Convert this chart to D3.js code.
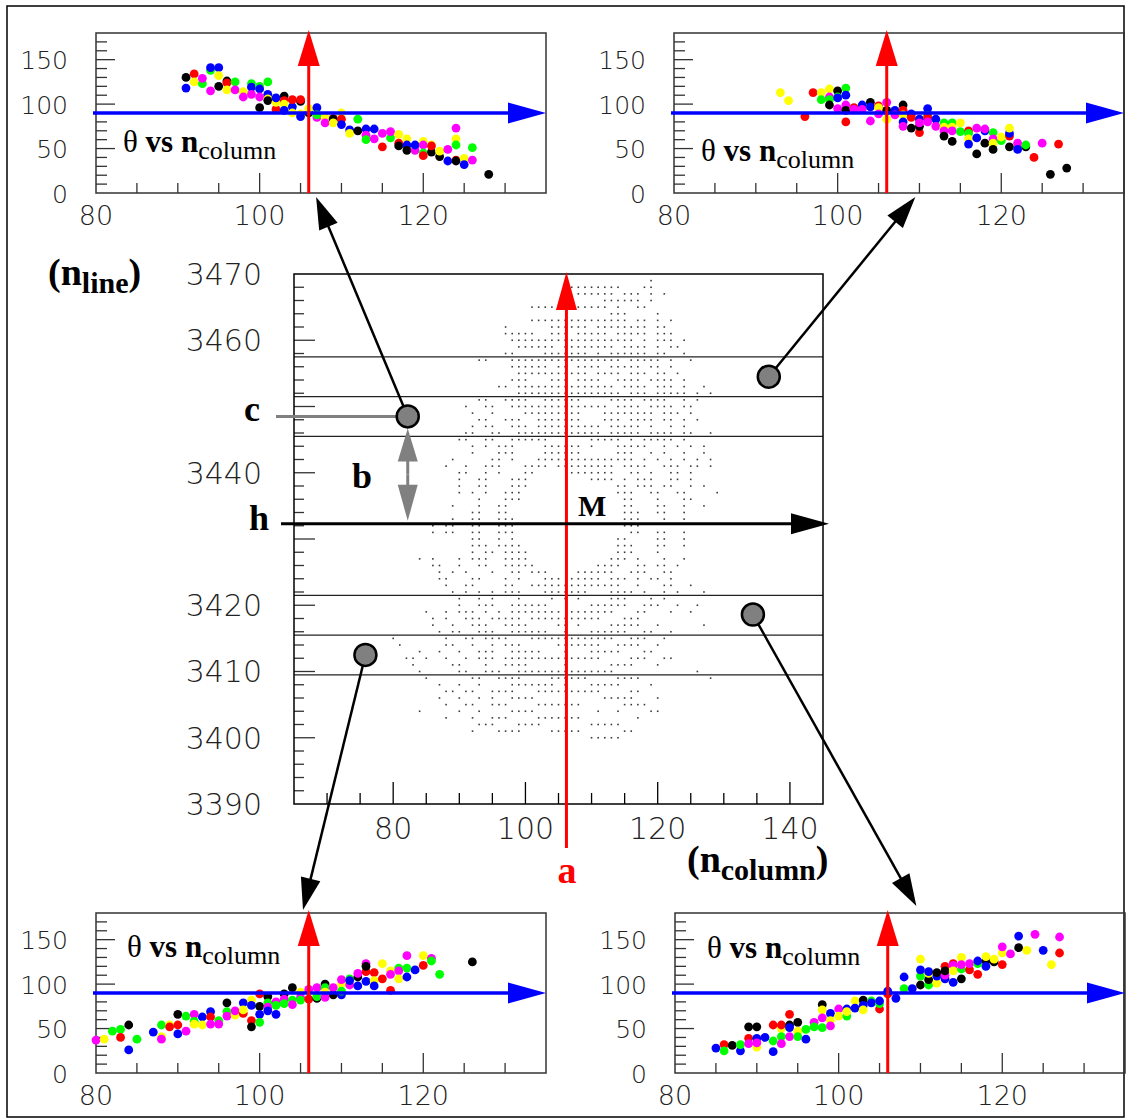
<!DOCTYPE html>
<html>
<head>
<meta charset="utf-8">
<script src="https://cdn.jsdelivr.net/npm/d3@7"></script>
<style>
  body { margin: 0; background: #fff; }
  svg { display: block; }
  .num { font-family: "DejaVu Sans", sans-serif; font-weight: 200; fill: #222; }
  .ser { font-family: "Liberation Serif", "Times New Roman", serif; }
</style>
</head>
<body>
<svg id="fig" width="1127" height="1118"></svg>
<script>
// ---- central hit map: one string per n_line (3469 down to 3400), one char per n_column from 80 ----
const hitFirstCol = 80;
const hitTopLine = 3469;
const hitRows = [
  "----------|----------|----------|---------o|----------",
  "----------|----------|-------ooo|ooooo---oo|----------",
  "----------|----------|--------oo|oooo-ooo-o|-o--------",
  "----------|----------|----------|--oooooo-o|----------",
  "----------|----------|-ooooo--oo|ooo-o--oo-|----------",
  "----------|----------|----------|---ooo----|o---------",
  "----------|----------|-ooooooooo|oooooo-oo-|o-o-------",
  "----------|-------o--|----oooooo|-oooooooo-|oo--------",
  "----------|-------ooo|oo--ooo-oo|ooo-ooooo-|ooo-------",
  "----------|--------oo|oooooooooo|ooooooo-o-|ooo-o-----",
  "----------|---------o|ooooo-oooo|oooo-oooo-|o-oo------",
  "----------|-------oo-|---ooooooo|-o-oooooo-|oo--o-----",
  "----------|---oo---oo|oooooooooo|ooooo-oooo|o-o--o----",
  "----------|--------oo|oooo-oo-oo|oo-ooooo-o|o-o-------",
  "----------|---------o|oooooooooo|-oooo-ooo-|oo-o------",
  "----------|--------oo|o---ooo-oo|oo--oooo-o|ooo-o-----",
  "----------|------oo-o|oooooooooo|oooo-oooo-|ooo-o--o--",
  "----------|---------o|oooooooooo|ooooo-ooo-|ooooo-o-o-",
  "----------|---oo--ooo|o--oooooo-|---oooo-oo|oo--o-o---",
  "----------|-o--oo--oo|oooooooooo|ooo-oooo-o|ooo-oo----",
  "----------|--o--o----|ooooooooo-|--oooooooo|-ooo-o----",
  "----------|---oo--ooo|--ooooooo-|--ooo-oooo|-oo-o-o---",
  "----------|--o-oo--oo|o-oooooooo|oo-ooooo-o|--o-o-----",
  "----------|-oo--oo--o|oooooooooo|oo-ooooo-o|ooo-oo--o-",
  "----------|oo--oo--oo|oooo------|ooooo-o-oo|ooo-o-----",
  "----------|--o-o-ooo-|---oooooo-|o---ooooo-|-o-o-o-o--",
  "----------|--o---ooo-|---oooooo-|----ooo--o|-o--o--o--",
  "---------o|-----oo-o-|--oooooooo|ooooooo-o-|o-o-o-o-o-",
  "--------o-|-o--ooo---|oooo-ooooo|oooo-oooo-|-ooo-oo-o-",
  "----------|oo--o-o---|oo-----ooo|oooo--oo-o|--oo-o----",
  "----------|o--oo---oo|o---------|oooo-o-ooo|--oo-o----",
  "----------|o--oo---oo|o---------|----oo-ooo|-oo--o-o--",
  "----------|o-o-o--ooo|----------|----ooo--o|o--oo----o",
  "----------|---o---ooo|----------|-----oo---|o---oo----",
  "---------o|---o--oo--|----------|-----oo---|oo--o--o--",
  "----------|--oo--oo--|----------|-----ooo--|oo--o-----",
  "---------o|--oo--ooo-|----------|-----ooo--|-o--o-----",
  "------o-oo|--oo--ooo-|----------|-----ooo--|----------",
  "------o-oo|--oo--ooo-|----------|------oo--|oo--o-----",
  "----------|--oo--o-o-|----------|----oo----|oo--o-----",
  "----------|--ooo-oooo|----------|----ooo---|oo--o-----",
  "----------|--o-oo-ooo|o---------|----ooo---|o---------",
  "----o-o---|o-ooo--ooo|o---------|---ooo-o--|-o--o-----",
  "------oo--|o--oo--ooo|oo--------|-oooo--oo-|oo-o------",
  "-------o-o|-o---o--oo|-ooo----oo|oooo--ooo-|-oo-------",
  "-------oo-|--oo---o-o|---ooo-ooo|oo-ooo-o-o|o-o-------",
  "--------o-|-oo----oo-|-ooooooooo|ooooo--o--|-oo--o----",
  "---------o|-o-o-o-ooo|---ooooooo|---oooo-o-|-o-o---o--",
  "----------|o--o-o---o|----o-o-o-|---ooo---o|-o--------",
  "----------|o--ooo--oo|oooo------|oooooo--oo|o--o--o---",
  "-----o--o-|ooo-o-o-oo|oooooo-ooo|oooo---oo-|--o--o----",
  "------o-o-|-ooo-ooooo|-ooooooooo|oo---ooo--|----------",
  "------o--o|--ooo--ooo|o----oo-o-|---ooooo--|o------o--",
  "-------o-o|o--ooo--oo|oooo--o---|oooooo--oo|--o-------",
  "o-------o-|-oo-oooo--|-ooooooooo|oooo--ooo-|-o--------",
  "-o------oo|--o--o-ooo|-----ooooo|oo--oooo--|o---------",
  "----o--o--|o--ooo--oo|ooo---o---|ooooo---oo|----------",
  "--oo-o--o-|-o-ooo-ooo|oooooooooo|oo----ooo-|-oo-------",
  "---o-----o|o---o--ooo|o-----o---|---oooo---|o---------",
  "----o-----|oo--ooo--o|oooooooooo|oooo------|------o---",
  "-----o----|--oo--oooo|----oooooo|----oooo--|--------o-",
  "-------o--|o--o----oo|ooooo-o---|ooooo----o|----------",
  "--------oo|-oo--oooo-|--oooooooo|oo----oo--|----------",
  "-------o--|o--o-o--oo|oo--------|--ooooo---|o---------",
  "--------o-|-oo--ooo--|--ooooooo-|-----oooo-|----------",
  "----o-----|o--o----oo|oo--------|-o--o----o|o---------",
  "--------o-|--o--ooo--|--ooooooo-|-------o--|----------",
  "----------|---ooo---o|ooo-------|ooooo-----|----------",
  "----------|--o---oooo|----ooooo-|-----oo---|----------",
  "----------|----------|----------|ooooo-----|----------"
];

// band boundaries (n_line) and band centres where the probe circles sit
const bandLines = [3457.5, 3451.5, 3445.5, 3421.5, 3415.5, 3409.5];
const mainXLabels = [80, 100, 120, 140];
const mainYLabels = [3470, 3460, 3440, 3420, 3410, 3400, 3390];
const axisLine = 106.2;     // red vertical "a"
const hLine = 3432.3;       // horizontal "h"
const probes = [            // [n_column, n_line] of the grey circles
  [82.2, 3448.5],  // -> top left
  [136.8, 3454.5], // -> top right
  [75.8, 3412.5],  // -> bottom left
  [134.4, 3418.6]  // -> bottom right
];

// ---- insets: theta vs n_column, [n_column, theta, colour] ----
const insetXLabels = [80, 100, 120];
const insetYLabels = [0, 50, 100, 150];
const thetaRef = 90;
const columnRef = 106;

const topLeftPts = [
  [91,130,"k"],[91,118,"b"],[92,134,"r"],[92,125,"y"],[93,123,"g"],[93,129,"m"],[94,138,"g"],[94,141,"b"],
  [95,141,"b"],[94,115,"m"],[95,132,"y"],[95,120,"k"],[96,126,"k"],[96,124,"r"],[96,116,"y"],[97,125,"g"],
  [97,116,"m"],[98,114,"y"],[98,108,"m"],[99,123,"g"],[99,119,"b"],[99,111,"m"],[100,120,"g"],[100,117,"b"],
  [100,108,"m"],[100,96,"k"],[101,125,"g"],[101,111,"b"],[101,106,"y"],[101,104,"k"],[102,94,"r"],[102,102,"y"],
  [102,107,"b"],[103,109,"k"],[103,104,"r"],[103,100,"y"],[103,93,"b"],[104,97,"b"],[104,105,"r"],[104,90,"y"],
  [105,103,"k"],[105,105,"r"],[105,89,"y"],[105,86,"b"],[106,90,"k"],[106,95,"y"],[107,96,"b"],[107,85,"m"],
  [107,88,"g"],[108,85,"y"],[109,84,"r"],[108,79,"m"],[109,82,"b"],[109,83,"k"],[110,90,"y"],[110,83,"r"],
  [109,79,"y"],[110,77,"b"],[111,71,"b"],[111,67,"y"],[112,83,"g"],[112,70,"k"],[114,72,"b"],[113,72,"b"],
  [113,65,"m"],[113,60,"g"],[114,61,"m"],[115,67,"m"],[116,62,"g"],[116,69,"m"],[117,66,"y"],[115,52,"r"],
  [117,56,"r"],[117,53,"k"],[118,61,"y"],[118,54,"b"],[118,48,"k"],[119,48,"m"],[119,54,"b"],[120,58,"y"],
  [120,54,"m"],[120,45,"g"],[120,42,"r"],[121,46,"k"],[121,54,"y"],[121,53,"r"],[122,41,"k"],[122,47,"y"],
  [123,49,"m"],[123,36,"b"],[124,73,"m"],[124,61,"y"],[124,54,"g"],[124,37,"r"],[124,36,"k"],[125,39,"y"],
  [125,32,"b"],[126,37,"m"],[126,51,"g"],[128,21,"k"]
];

const topRightPts = [
  [93,113,"y"],[94,104,"y"],[96,86,"r"],[97,113,"r"],[98,113,"y"],[98,105,"g"],[99,117,"y"],[99,108,"m"],
  [99,105,"g"],[99,99,"k"],[100,115,"k"],[100,108,"g"],[100,107,"b"],[100,95,"m"],[101,118,"g"],[101,110,"b"],
  [101,99,"m"],[101,93,"k"],[101,80,"r"],[102,96,"r"],[102,94,"m"],[103,99,"b"],[103,94,"m"],[104,102,"k"],
  [104,97,"b"],[104,81,"m"],[105,98,"r"],[105,96,"y"],[105,89,"m"],[106,93,"k"],[106,83,"y"],[106,102,"m"],
  [107,93,"b"],[107,88,"m"],[108,99,"k"],[108,93,"r"],[108,88,"y"],[108,80,"b"],[108,75,"m"],[109,89,"b"],
  [109,85,"r"],[109,73,"k"],[110,83,"b"],[110,68,"r"],[110,75,"k"],[110,79,"m"],[111,95,"b"],[111,87,"g"],
  [111,85,"r"],[111,80,"m"],[112,83,"b"],[112,75,"m"],[113,79,"g"],[113,74,"y"],[113,70,"m"],[113,64,"k"],
  [114,79,"g"],[114,74,"y"],[114,70,"m"],[114,58,"k"],[115,69,"g"],[115,79,"y"],[116,70,"r"],[116,67,"g"],
  [116,61,"y"],[116,55,"b"],[117,73,"m"],[117,44,"k"],[117,62,"b"],[118,56,"k"],[118,70,"b"],[118,72,"m"],
  [119,68,"g"],[119,61,"m"],[119,56,"y"],[119,49,"k"],[120,59,"g"],[120,63,"y"],[121,64,"r"],[121,67,"b"],
  [121,73,"y"],[121,52,"k"],[122,56,"m"],[122,49,"b"],[123,52,"k"],[123,54,"g"],[125,56,"m"],[124,40,"r"],
  [126,21,"k"],[127,55,"r"],[128,28,"k"]
];

const bottomLeftPts = [
  [80,37,"m"],[81,38,"y"],[82,47,"g"],[83,49,"g"],[83,40,"r"],[84,54,"k"],[84,26,"b"],[85,38,"g"],
  [87,46,"b"],[88,54,"g"],[88,41,"y"],[88,38,"m"],[89,54,"y"],[89,52,"r"],[90,66,"k"],[90,54,"r"],
  [90,44,"b"],[91,64,"g"],[91,47,"m"],[92,66,"m"],[92,58,"g"],[92,55,"y"],[93,63,"b"],[93,54,"y"],
  [94,69,"b"],[94,63,"r"],[94,55,"m"],[95,59,"g"],[95,55,"m"],[96,79,"k"],[96,69,"g"],[96,64,"m"],
  [97,65,"y"],[97,70,"m"],[98,79,"b"],[98,67,"r"],[98,71,"y"],[99,82,"y"],[99,76,"b"],[99,59,"r"],
  [99,52,"k"],[100,89,"r"],[100,75,"k"],[100,66,"b"],[100,57,"g"],[101,86,"k"],[101,79,"g"],[101,74,"m"],
  [101,70,"b"],[102,80,"m"],[102,76,"g"],[102,66,"b"],[103,89,"k"],[103,83,"m"],[103,78,"g"],[104,96,"k"],
  [104,82,"g"],[104,77,"m"],[105,91,"y"],[105,85,"m"],[105,82,"g"],[106,94,"m"],[106,83,"r"],[107,96,"m"],
  [107,84,"k"],[107,86,"g"],[108,100,"k"],[108,96,"g"],[108,91,"y"],[108,85,"m"],[109,88,"k"],[109,96,"m"],
  [110,88,"b"],[110,100,"y"],[110,105,"m"],[110,92,"g"],[111,106,"g"],[111,99,"m"],[111,104,"b"],[112,108,"k"],
  [112,98,"b"],[112,112,"m"],[113,114,"r"],[113,123,"m"],[113,120,"k"],[113,103,"b"],[114,113,"r"],[115,123,"y"],
  [114,104,"y"],[114,98,"b"],[115,106,"r"],[116,93,"r"],[116,115,"y"],[116,111,"m"],[117,118,"g"],[117,115,"m"],
  [117,106,"y"],[118,118,"g"],[118,132,"m"],[118,108,"b"],[119,116,"b"],[120,121,"r"],[120,132,"y"],[121,129,"m"],
  [121,126,"g"],[122,111,"g"],[126,125,"k"]
];

const bottomRightPts = [
  [85,28,"b"],[86,32,"r"],[86,25,"g"],[87,31,"k"],[88,25,"b"],[88,32,"g"],[89,52,"k"],[89,39,"r"],
  [89,33,"m"],[90,52,"k"],[90,39,"b"],[90,29,"y"],[90,34,"m"],[91,40,"b"],[92,36,"g"],[92,24,"b"],
  [92,54,"r"],[93,50,"y"],[93,41,"g"],[93,33,"m"],[93,54,"r"],[94,66,"r"],[94,54,"k"],[94,51,"b"],
  [94,41,"m"],[95,57,"k"],[95,47,"y"],[95,41,"g"],[96,49,"g"],[96,38,"b"],[97,57,"m"],[97,52,"g"],
  [98,77,"k"],[98,71,"y"],[98,62,"m"],[98,51,"g"],[99,67,"b"],[99,59,"y"],[99,53,"m"],[100,72,"m"],
  [100,64,"y"],[101,72,"b"],[101,64,"g"],[101,69,"y"],[102,81,"y"],[102,73,"b"],[103,82,"k"],[103,76,"b"],
  [103,71,"y"],[104,81,"g"],[104,79,"b"],[105,72,"r"],[105,78,"g"],[105,81,"b"],[106,89,"r"],[106,92,"b"],
  [107,84,"b"],[108,108,"b"],[108,95,"g"],[109,95,"b"],[110,99,"k"],[110,109,"g"],[110,116,"b"],[110,128,"y"],
  [111,99,"g"],[111,105,"k"],[111,112,"y"],[111,114,"b"],[112,101,"y"],[112,109,"b"],[112,113,"k"],[113,120,"r"],
  [113,106,"b"],[113,110,"m"],[113,115,"k"],[114,123,"r"],[114,102,"b"],[114,121,"m"],[114,115,"y"],[115,130,"y"],
  [115,106,"k"],[115,117,"g"],[115,122,"m"],[116,116,"r"],[116,123,"m"],[117,111,"r"],[118,126,"k"],[118,131,"y"],
  [118,120,"b"],[117,123,"g"],[117,126,"b"],[119,125,"k"],[119,128,"y"],[120,135,"y"],[120,122,"r"],[120,142,"m"],
  [121,134,"m"],[122,154,"b"],[122,141,"k"],[123,138,"y"],[124,156,"m"],[125,138,"b"],[126,122,"y"],[127,153,"m"],
  [127,135,"r"]
];

const markerColors = { k: "#000000", r: "#ff0000", g: "#00ff00", b: "#0000ff", y: "#ffff00", m: "#ff00ff" };

const svg = d3.select("#fig");

function arrow(sel, x1, y1, x2, y2, o) {
  const dx = x2 - x1, dy = y2 - y1, L = Math.hypot(dx, dy);
  const ux = dx / L, uy = dy / L;
  const bx = x2 - ux * o.head, by = y2 - uy * o.head;
  sel.append("line")
    .attr("x1", x1).attr("y1", y1).attr("x2", bx + ux * 2).attr("y2", by + uy * 2)
    .attr("stroke", o.color).attr("stroke-width", o.width);
  const px = -uy, py = ux, hw = o.headW / 2;
  sel.append("path")
    .attr("d", `M${x2},${y2}L${bx + px * hw},${by + py * hw}L${bx - px * hw},${by - py * hw}Z`)
    .attr("fill", o.color);
}

// outer frame
svg.append("rect").attr("x", 7).attr("y", 6).attr("width", 1117).attr("height", 1111)
  .attr("fill", "none").attr("stroke", "#000").attr("stroke-width", 1.5);

// ---------------- central plot ----------------
const xMain = d3.scaleLinear().domain([65, 145]).range([294, 823]);
const yMain = d3.scaleLinear().domain([3390, 3470]).range([804, 274]);
const main = svg.append("g");

const hits = [];
hitRows.forEach((row, i) => {
  row.replace(/\|/g, "").split("").forEach((ch, j) => {
    if (ch === "o") hits.push([hitFirstCol + j, hitTopLine - i]);
  });
});
main.append("g").selectAll("rect").data(hits).join("rect")
  .attr("x", d => xMain(d[0]) - 0.8).attr("y", d => yMain(d[1]) - 0.8)
  .attr("width", 1.6).attr("height", 1.6).attr("fill", "#3a3a3a");

main.append("g").selectAll("line").data(bandLines).join("line")
  .attr("x1", xMain(65)).attr("x2", xMain(145))
  .attr("y1", d => yMain(d)).attr("y2", d => yMain(d))
  .attr("stroke", "#222").attr("stroke-width", 1.2);

// ticks inside the frame
const xt = d3.range(70, 145, 5);
main.append("g").selectAll("line").data(xt).join("line")
  .attr("x1", d => xMain(d)).attr("x2", d => xMain(d))
  .attr("y1", yMain(3390)).attr("y2", d => yMain(3390) - (d % 20 === 0 ? 22 : 11))
  .attr("stroke", "#000").attr("stroke-width", 1.3);
const yt = d3.range(3392, 3470, 2);
main.append("g").selectAll("line").data(yt).join("line")
  .attr("y1", d => yMain(d)).attr("y2", d => yMain(d))
  .attr("x1", xMain(65)).attr("x2", d => xMain(65) + (d % 10 === 0 ? 21 : 10))
  .attr("stroke", "#333").attr("stroke-width", 1.3);

main.append("rect").attr("x", xMain(65)).attr("y", yMain(3470))
  .attr("width", xMain(145) - xMain(65)).attr("height", yMain(3390) - yMain(3470))
  .attr("fill", "none").attr("stroke", "#000").attr("stroke-width", 1.5);

main.append("g").selectAll("text").data(mainXLabels).join("text")
  .attr("class", "num").attr("x", d => xMain(d)).attr("y", yMain(3390) + 35)
  .attr("text-anchor", "middle").style("font-size", "30px").text(d => d);
main.append("g").selectAll("text").data(mainYLabels).join("text")
  .attr("class", "num").attr("x", xMain(65) - 32).attr("y", d => yMain(d))
  .attr("dy", "0.36em").attr("text-anchor", "end").style("font-size", "30px").text(d => d);

// red vertical "a" and black horizontal "h"
arrow(main, xMain(axisLine), yMain(3390) + 44, xMain(axisLine), yMain(3470) - 2,
  { color: "#ff0000", width: 3, head: 38, headW: 21 });
arrow(main, 281, yMain(hLine), xMain(145) + 6, yMain(hLine),
  { color: "#000", width: 3, head: 38, headW: 21 });

// grey "c" line and "b" double arrow
const c0 = probes[0];
main.append("line").attr("x1", 276).attr("x2", xMain(c0[0])).attr("y1", yMain(c0[1])).attr("y2", yMain(c0[1]))
  .attr("stroke", "#808080").attr("stroke-width", 3);
const bx = xMain(c0[0]), bTop = yMain(c0[1]) + 12, bBot = yMain(hLine) - 3;
const bMid = (bTop + bBot) / 2;
arrow(main, bx, bMid, bx, bTop, { color: "#808080", width: 3, head: 33, headW: 20 });
arrow(main, bx, bMid, bx, bBot, { color: "#808080", width: 3, head: 36, headW: 20 });

// ---------------- insets ----------------
const insets = [
  { left: 96, top: 33, pts: topLeftPts, tx: 27, ty: 119, tip: [106.9, -4.5] },
  { left: 674, top: 33, pts: topRightPts, tx: 27, ty: 128, tip: [109.5, -4.5] },
  { left: 96, top: 913, pts: bottomLeftPts, tx: 31, ty: 44, tip: [105.3, 183.4] },
  { left: 675, top: 913, pts: bottomRightPts, tx: 32, ty: 45, tip: [109.5, 187.8] }
];
const tips = [];

insets.forEach(ins => {
  const W = 450, H = 160;
  const x = d3.scaleLinear().domain([80, 135]).range([ins.left, ins.left + W]);
  const y = d3.scaleLinear().domain([0, 180]).range([ins.top + H, ins.top]);
  const g = svg.append("g");

  g.append("g").selectAll("line").data(d3.range(85, 135, 5)).join("line")
    .attr("x1", d => x(d)).attr("x2", d => x(d))
    .attr("y1", y(0)).attr("y2", d => y(0) - (d % 20 === 0 ? 20 : 10))
    .attr("stroke", "#333").attr("stroke-width", 1.3);
  g.append("g").selectAll("line").data(d3.range(10, 180, 10)).join("line")
    .attr("y1", d => y(d)).attr("y2", d => y(d))
    .attr("x1", x(80)).attr("x2", d => x(80) + (d % 50 === 0 ? 19 : 11))
    .attr("stroke", "#333").attr("stroke-width", 1.3);

  g.append("rect").attr("x", ins.left).attr("y", ins.top).attr("width", W).attr("height", H)
    .attr("fill", "none").attr("stroke", "#333").attr("stroke-width", 1.5);

  g.append("g").selectAll("text").data(insetXLabels).join("text")
    .attr("class", "num").attr("x", d => x(d)).attr("y", y(0) + 32)
    .attr("text-anchor", "middle").style("font-size", "27px").text(d => d);
  g.append("g").selectAll("text").data(insetYLabels).join("text")
    .attr("class", "num").attr("x", x(80) - 28).attr("y", d => y(d))
    .attr("dy", "0.38em").attr("text-anchor", "end").style("font-size", "25px").text(d => d);

  g.append("g").selectAll("circle").data(ins.pts).join("circle")
    .attr("cx", d => x(d[0])).attr("cy", d => y(d[1])).attr("r", 4.4)
    .attr("fill", d => markerColors[d[2]]);

  arrow(g, x(80) - 3, y(thetaRef), x(135), y(thetaRef), { color: "#0000ff", width: 3.3, head: 38, headW: 21 });
  arrow(g, x(columnRef), y(0), x(columnRef), ins.top - 3, { color: "#ff0000", width: 3, head: 36, headW: 22 });

  const t = g.append("text").attr("class", "ser").attr("x", ins.left + ins.tx).attr("y", ins.top + ins.ty)
    .style("font-size", "31px").attr("fill", "#000");
  t.append("tspan").text("θ ");
  t.append("tspan").style("font-weight", "bold").text("vs n");
  t.append("tspan").style("font-size", "26px").attr("dy", 7).text("column");

  tips.push([x(ins.tip[0]), y(ins.tip[1])]);
});

// connectors from probe circles to insets
probes.forEach((p, i) => {
  arrow(svg, xMain(p[0]), yMain(p[1]), tips[i][0], tips[i][1], { color: "#000", width: 2.5, head: 32, headW: 20 });
});
svg.append("g").selectAll("circle").data(probes).join("circle")
  .attr("cx", d => xMain(d[0])).attr("cy", d => yMain(d[1])).attr("r", 11)
  .attr("fill", "#808080").attr("stroke", "#000").attr("stroke-width", 2.5);

// letter labels
const lab = svg.append("g").attr("class", "ser").style("font-weight", "bold");
lab.append("text").attr("x", 578).attr("y", 516).style("font-size", "30px").text("M");
lab.append("text").attr("x", 567).attr("y", 883).attr("text-anchor", "middle").attr("fill", "#ff0000")
  .style("font-size", "38px").text("a");
lab.append("text").attr("x", 352).attr("y", 488).style("font-size", "36px").text("b");
lab.append("text").attr("x", 244).attr("y", 421).style("font-size", "36px").text("c");
lab.append("text").attr("x", 249).attr("y", 530).style("font-size", "36px").text("h");

const nl = lab.append("text").attr("x", 48).attr("y", 285).style("font-size", "38px");
nl.append("tspan").text("(n");
nl.append("tspan").style("font-size", "30px").attr("dy", 8).text("line");
nl.append("tspan").attr("dy", -8).text(")");

const nc = lab.append("text").attr("x", 687).attr("y", 872).style("font-size", "38px");
nc.append("tspan").text("(n");
nc.append("tspan").style("font-size", "30px").attr("dy", 8).text("column");
nc.append("tspan").attr("dy", -8).text(")");
</script>
</body>
</html>
